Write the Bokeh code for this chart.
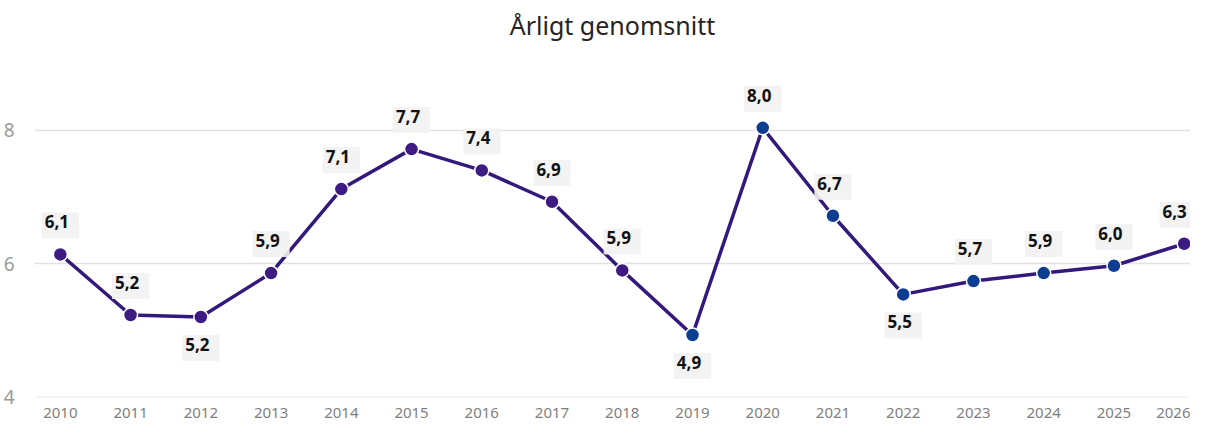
from bokeh.plotting import figure
from bokeh.models import ColumnDataSource, FixedTicker, Range1d, Label
from bokeh.embed import file_html
from bokeh.resources import INLINE

# ---- data ----
years = list(range(2010, 2027))
values = [6.14, 5.23, 5.20, 5.86, 7.12, 7.72, 7.40, 6.93, 5.90, 4.93,
          8.04, 6.72, 5.54, 5.74, 5.86, 5.97, 6.30]
title_text = "Årligt genomsnitt"
y_ticks = [4, 6, 8]

# ---- styling helpers ----
below_years = {2012, 2019, 2022}
blue_years = set(range(2019, 2026))
labels = [f"{v:.1f}".replace(".", ",") for v in values]
colors = ["#0c3d91" if y in blue_years else "#3d1b82" for y in years]

src = ColumnDataSource(dict(x=years, y=values, c=colors))

p = figure(width=1190, height=420, output_backend="svg", toolbar_location=None,
           x_range=Range1d(2009.632, 2026.09), y_range=Range1d(3.9925, 9.26),
           min_border_left=32, min_border_right=0, min_border_bottom=22,
           min_border_top=12)

p.title.text = title_text
p.title.align = "center"
p.title.text_font = "Noto Sans"
p.title.text_font_size = "25px"
p.title.text_font_style = "normal"
p.title.text_color = "#252423"
p.title.standoff = 10

p.outline_line_color = None
p.xgrid.grid_line_color = None
p.ygrid.grid_line_color = "#e1e1e1"
p.ygrid.grid_line_width = 1.5

p.yaxis.ticker = FixedTicker(ticks=y_ticks)
p.xaxis.ticker = FixedTicker(ticks=years)
for ax in (p.xaxis, p.yaxis):
    ax.axis_line_color = None
    ax.major_tick_line_color = None
    ax.minor_tick_line_color = None
    ax.major_label_text_font = "Noto Sans"
p.xaxis.major_label_text_font_size = "15px"
p.xaxis.major_label_text_color = "#7f7f7f"
p.yaxis.major_label_text_color = "#9a9a9a"
p.xaxis.major_label_standoff = 4
p.yaxis.major_label_standoff = 14
p.yaxis.major_label_text_font_size = "19px"

p.line("x", "y", source=src, line_color="#34197c", line_width=3.5)
p.scatter("x", "y", source=src, size=14, fill_color="c", line_color="white",
          line_width=1.5)

for i, (yr, v, lab) in enumerate(zip(years, values, labels)):
    dy = -31 if yr in below_years else 29
    dx = -6 if i == len(years) - 1 else 0
    p.add_layout(Label(x=yr, y=v, text=lab, x_offset=dx, y_offset=dy,
                       text_align="center", text_baseline="middle",
                       text_font="Noto Sans", text_font_style="bold",
                       text_font_size="17px", text_color="#111111",
                       background_fill_color="#f2f2f2",
                       background_fill_alpha=0.9,
                       padding=(3, 10, 3, 10)))

open("out.html", "w").write(file_html(p, INLINE))
